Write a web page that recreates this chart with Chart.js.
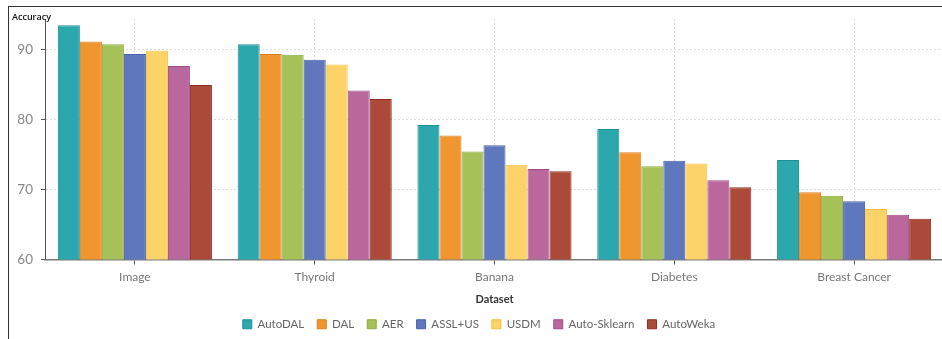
<!DOCTYPE html>
<html>
<head>
<meta charset="utf-8">
<script src="https://cdn.jsdelivr.net/npm/chart.js@4/dist/chart.umd.min.js"></script>
<style>
  html, body { margin: 0; padding: 0; background: #fff; overflow: hidden; width: 942px; height: 339px; }
  #wrap { position: absolute; left: 0; top: 0; width: 958px; height: 340px; }
  #frame { position: absolute; left: 8px; top: 6px; width: 960px; height: 400px;
           border-left: 1.5px solid #333; border-top: 1.5px solid #333; pointer-events: none; }
</style>
</head>
<body>
<div id="wrap"><canvas id="chart" width="958" height="340"></canvas></div>
<div id="frame"></div>
<script>
// Accuracy (%) of each AutoML / active-learning method per dataset
const categories = ['Image', 'Thyroid', 'Banana', 'Diabetes', 'Breast Cancer'];
const autoDAL     = [93.4, 90.7, 79.2, 78.6, 74.2];
const dal         = [91.1, 89.3, 77.7, 75.3, 69.6];
const aer         = [90.7, 89.2, 75.4, 73.3, 69.1];
const asslUs      = [89.3, 88.5, 76.3, 74.1, 68.3];
const usdm        = [89.8, 87.8, 73.5, 73.7, 67.2];
const autoSklearn = [87.6, 84.1, 72.9, 71.3, 66.4];
const autoWeka    = [84.9, 82.9, 72.6, 70.3, 65.8];
const yTicks = [60, 70, 80, 90];

const seriesNames = ['AutoDAL', 'DAL', 'AER', 'ASSL+US', 'USDM', 'Auto-Sklearn', 'AutoWeka'];
const seriesValues = [autoDAL, dal, aer, asslUs, usdm, autoSklearn, autoWeka];
const fills   = ['#2ca7ae', '#f0962f', '#a5c157', '#5f77bd', '#fcd368', '#b9679c', '#ac4a3a'];
const borders = ['#1d9098', '#db7f1e', '#8daa3e', '#4860a8', '#f3c03e', '#a04c84', '#8e2c22'];

const FONT = 'Lato, "Open Sans", sans-serif';

// small y-axis caption in the top-left corner
const axisCaption = {
  id: 'axisCaption',
  afterDraw(chart) {
    const ctx = chart.ctx;
    ctx.save();
    ctx.font = '600 9px "Open Sans", sans-serif';
    ctx.fillStyle = '#111';
    ctx.textAlign = 'left';
    ctx.textBaseline = 'middle';
    ctx.fillText('Accuracy', 12, 17);
    ctx.restore();
  }
};

new Chart(document.getElementById('chart'), {
  type: 'bar',
  data: {
    labels: categories,
    datasets: seriesNames.map((name, i) => ({
      label: name,
      data: seriesValues[i],
      backgroundColor: fills[i],
      borderColor: borders[i],
      borderWidth: 1,
      borderSkipped: 'start',
      barPercentage: 1.0,
      categoryPercentage: 0.857
    }))
  },
  options: {
    responsive: false,
    animation: false,
    devicePixelRatio: 1,
    layout: { padding: { left: 14, right: 14, top: 19, bottom: 0 } },
    plugins: {
      tooltip: { enabled: false },
      legend: {
        position: 'bottom',
        labels: {
          boxWidth: 9,
          boxHeight: 9,
          padding: 13,
          color: '#666',
          font: { family: FONT, size: 11.5 }
        }
      }
    },
    scales: {
      x: {
        afterFit(scale) { scale.height = 46; },
        grid: {
          display: true,
          offset: false,
          drawOnChartArea: true,
          color: '#dcdcdc',
          tickColor: '#555',
          tickLength: 5,
          tickWidth: 1
        },
        border: { display: true, color: '#7a7a7a', width: 1.5, dash: [2, 2] },
        ticks: {
          color: '#777',
          padding: 5,
          font: { family: FONT, size: 12 }
        },
        title: {
          display: true,
          text: 'Dataset',
          color: '#333',
          font: { family: FONT, size: 11, weight: 'bold' },
          padding: { top: 0, bottom: -1 }
        }
      },
      y: {
        min: 60,
        max: 94.3,
        afterFit(scale) { scale.width = 31; },
        afterBuildTicks(scale) { scale.ticks = yTicks.map(v => ({ value: v })); },
        grid: {
          color: '#dcdcdc',
          tickColor: '#555',
          tickLength: 4,
          tickWidth: 1
        },
        border: { display: true, color: '#555', width: 1, dash: [2, 2] },
        ticks: {
          color: '#888',
          padding: 8,
          includeBounds: false,
          font: { family: FONT, size: 13.5 }
        }
      }
    }
  },
  plugins: [axisCaption]
});
</script>
</body>
</html>
